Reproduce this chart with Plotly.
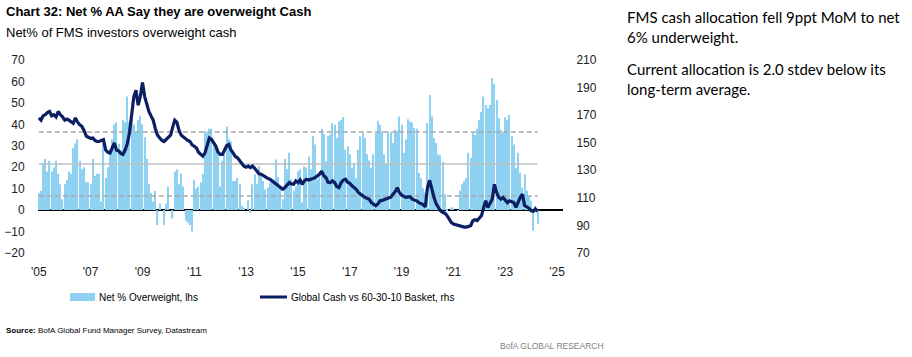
import plotly.graph_objects as go
import pandas as pd

# ---------------- data ----------------
start_month = "2005-01-01"

# Net % of FMS investors overweight cash (monthly, lhs)
net_overweight = [
    8, 9, 22, 24, 18, 23, 18, 20, 23, 17, 12, 5,
    12, 14, 18, 17, 29, 31, 33, 23, 19, 20, 13, 13,
    12, 24, 16, 17, 17, 4, 31, 15, 20, 27, 33, 40,
    41, 31, 28, 42, 41, 53, 41, 44, 40, 36, 42, 44,
    40, 34, 24, 12, 8, 4, 9, -7, 3, 0, -7, 3,
    11, 0, -4, 18, 19, 12, 17, 11, -5, -6, -7, -10,
    14, 10, 11, 13, 17, 37, 36, 38, 38, 32, 30, 26,
    11, 23, 27, 39, 33, 32, 13.6, 13.6, 15, 12, 2, 1,
    0, 4.6, -1.5, 12, 16.7, 12, 20.5, 16.7, 13.6, 9.7, 10.5, 12.8,
    13.6, 14.4, 23.6, 15.4, 10.5, 5, 24, 19, 26.7, 14.4, 9, 11,
    18, 19, 3.5, 20.5, 19.8, 25, 19, 34.7, 30.6, 14.4, 17.4, 38,
    35.5, 22.8, 34.4, 35.2, 40.6, 40, 33.6, 41.4, 42, 43.4, 28.2, 29.8,
    26, 19.8, 22, 15, 28.2, 34.4, 36, 33.6, 26, 23.1, 19.8, 26,
    36, 41.7, 39.8, 36.7, 26, 21.3, 36.7, 36, 31.3, 37.5, 37, 43.7,
    39.8, 26.7, 32.9, 42.4, 41.4, 40.9, 38.3, 38, 17.4, 14.8, 10.2, 8.2,
    40.6, 53.7, 43.7, 33.6, 31.3, 26, 25.6, 22.5, 7.4, 0.5, 0, 1.2,
    1.2, 0, -0.3, 9, 12, 13.6, 15, 26.7, 24.4, 36, 35, 38,
    42, 45.7, 53, 49, 47.5, 49, 61.7, 59, 51.4, 42.9, 37.5, 36,
    43.2, 42.1, 44.4, 34.4, 30.6, 19.8, 26.7, 17.4, 10.5, 16.7, 9, 6.6,
    4.3, -9.6, 2, -6.5,
]

# Global Cash vs 60-30-10 Basket (monthly, rhs)
cash_vs_basket = [
    168.0, 166.4, 169.5, 170.3, 171.9, 172.7, 169.5, 170.3, 168.8, 172.7, 170.3, 168.8,
    166.4, 167.2, 166.4, 164.9, 164.1, 168.0, 164.9, 163.0, 161.8, 158.7, 154.8, 154.0,
    153.2, 153.4, 151.7, 150.9, 150.9, 151.7, 152.3, 144.7, 143.1, 142.6, 146.2, 149.8,
    144.7, 143.9, 142.3, 141.5, 144.7, 149.3, 157.1, 171.1, 183.5, 188.2, 177.3, 183.5,
    193.7, 183.5, 177.3, 172.7, 169.5, 166.4, 160.2, 155.5, 153.4, 151.7, 150.9, 152.4,
    154.0, 155.5, 161.0, 166.4, 164.9, 158.7, 155.5, 154.0, 152.4, 151.7, 150.9, 148.5,
    147.5, 146.2, 143.1, 141.4, 140.3, 142.6, 147.8, 153.4, 152.4, 149.8, 147.5, 143.1,
    141.5, 141.5, 144.7, 147.8, 148.7, 144.7, 142.6, 140.0, 139.1, 136.9, 135.3, 133.0,
    132.2, 133.0, 131.9, 133.0, 131.4, 129.4, 127.5, 127.1, 126.0, 124.6, 124.1, 123.5,
    122.3, 121.0, 119.8, 118.7, 117.0, 116.2, 117.4, 119.0, 121.0, 120.1, 119.8, 122.3,
    121.0, 122.9, 119.8, 122.3, 123.5, 122.9, 123.5, 124.1, 124.6, 126.0, 127.1, 129.4,
    126.0, 124.6, 121.3, 121.0, 122.3, 121.0, 118.2, 117.4, 121.0, 122.9, 123.5, 121.3,
    120.5, 118.7, 117.4, 116.2, 113.9, 112.6, 111.4, 110.3, 109.7, 109.0, 106.5, 105.0,
    104.2, 105.5, 107.8, 108.1, 109.0, 109.3, 109.8, 110.4, 112.6, 114.3, 117.4, 113.9,
    112.0, 111.4, 110.3, 110.7, 110.7, 109.0, 108.6, 107.8, 106.5, 105.8, 105.0, 103.4,
    117.4, 122.7, 116.2, 110.4, 105.8, 102.7, 100.6, 99.5, 98.8, 97.2, 94.1, 92.2,
    91.0, 90.5, 90.2, 89.7, 89.1, 88.7, 88.7, 89.1, 89.7, 93.3, 94.1, 93.5,
    95.7, 97.1, 102.7, 107.8, 103.0, 106.5, 108.9, 119.8, 113.9, 110.4, 109.0, 110.3,
    108.1, 106.5, 107.8, 107.0, 106.5, 103.0, 107.3, 110.3, 112.6, 104.2, 103.4, 102.5,
    100.6, 100.2, 101.9, 100.2,
]

# Long-term average and +/- 1 stdev of the net % series (lhs)
upper_band = 36.4
avg_level = 21.5
lower_band = 6.6

left_ticks = [-20, -10, 0, 10, 20, 30, 40, 50, 60, 70]
right_ticks = [70, 90, 110, 130, 150, 170, 190, 210]
x_tick_dates = ["2005-01-01", "2007-01-01", "2009-01-01", "2011-01-01", "2013-01-01", "2015-01-01",
                "2017-01-01", "2019-01-01", "2021-01-01", "2023-01-01", "2025-01-01"]
x_tick_labels = ["'05", "'07", "'09", "'11", "'13", "'15", "'17", "'19", "'21", "'23", "'25"]

bar_name = "Net % Overweight, lhs"
line_name = "Global Cash vs 60-30-10 Basket, rhs"

# ---------------- figure ----------------
dates = pd.date_range(start_month, periods=len(net_overweight), freq="MS")

SANS = "Liberation Sans, Arial, sans-serif"
BODY = "Lato, sans-serif"
BAR_COLOR = "#8FD1F1"
LINE_COLOR = "#0B1F63"

fig = go.Figure()
fig.add_trace(go.Bar(x=dates, y=net_overweight, name=bar_name,
                     marker=dict(color=BAR_COLOR, line_width=0), showlegend=False))
for level, dash, color in [(upper_band, "5px,3px", "#A9A9A9"),
                           (avg_level, "solid", "#BFBFBF"),
                           (lower_band, "5px,3px", "#A9A9A9")]:
    fig.add_trace(go.Scatter(x=[dates[0], dates[-1]], y=[level, level], mode="lines",
                             line=dict(color=color, width=1.5, dash=dash),
                             showlegend=False, hoverinfo="skip"))
fig.add_trace(go.Scatter(x=dates, y=cash_vs_basket, name=line_name, yaxis="y2", mode="lines",
                         line=dict(color=LINE_COLOR, width=3.2), showlegend=False))

L, R, T, B = 38, 349, 58, 102
W, H = 912, 357
pw, ph = W - L - R, H - T - B


def px(x):
    return (x - L) / pw


def py(y):
    return (H - B - y) / ph


tick_font = dict(family=SANS, size=12, color="#222222")

fig.update_layout(
    width=W, height=H,
    margin=dict(l=L, r=R, t=T, b=B, pad=0, autoexpand=False),
    plot_bgcolor="white", paper_bgcolor="white",
    bargap=0.4,
    showlegend=False,
    xaxis=dict(type="date", range=["2004-12-20", "2025-03-25"], automargin=False,
               tickmode="array", tickvals=x_tick_dates, ticktext=x_tick_labels,
               showgrid=False, zeroline=False, showline=False,
               ticks="outside", ticklen=6, tickcolor="rgba(0,0,0,0)",
               tickfont=tick_font),
    yaxis=dict(range=[-21, 71], tickmode="array", tickvals=left_ticks, automargin=False,
               showgrid=False, zeroline=True, zerolinecolor="#000000", zerolinewidth=1.5,
               showline=False, ticks="outside", ticklen=10, tickcolor="rgba(0,0,0,0)",
               tickfont=tick_font),
    yaxis2=dict(range=[68.44, 211.56], overlaying="y", side="right", automargin=False,
                tickmode="array", tickvals=right_ticks,
                showgrid=False, zeroline=False, showline=False,
                ticks="outside", ticklen=10, tickcolor="rgba(0,0,0,0)",
                tickfont=tick_font),
)

annotations = [
    dict(text="<b>Chart 32: Net % AA Say they are overweight Cash</b>", x=px(4), y=py(12),
         font=dict(family=SANS, size=13, color="#000000")),
    dict(text="Net% of FMS investors overweight cash", x=px(4), y=py(32),
         font=dict(family=SANS, size=13, color="#000000")),
    dict(text="FMS cash allocation fell 9ppt MoM to net<br>6% underweight.", x=px(625), y=py(26.5),
         font=dict(family=BODY, size=15, color="#000000")),
    dict(text="Current allocation is 2.0 stdev below its<br>long-term average.", x=px(625), y=py(78.5),
         font=dict(family=BODY, size=15, color="#000000")),
    dict(text=bar_name, x=px(97), y=py(297),
         font=dict(family=SANS, size=10, color="#000000")),
    dict(text=line_name, x=px(289), y=py(297),
         font=dict(family=SANS, size=10, color="#000000")),
    dict(text="<b>Source:</b> BofA Global Fund Manager Survey, Datastream", x=px(4), y=py(330),
         font=dict(family=SANS, size=8, color="#000000")),
]
for a in annotations:
    a.update(xref="paper", yref="paper", xanchor="left", yanchor="middle",
             showarrow=False, align="left")
annotations.append(dict(text="BofA GLOBAL RESEARCH", x=px(606), y=py(346), xref="paper", yref="paper",
                        xanchor="right", yanchor="middle", showarrow=False,
                        font=dict(family=SANS, size=8.5, color="#7F7F7F")))
fig.update_layout(annotations=annotations)

fig.add_shape(type="rect", xref="paper", yref="paper",
              x0=px(70), x1=px(95), y0=py(301), y1=py(293),
              fillcolor=BAR_COLOR, line=dict(width=0))
fig.add_shape(type="line", xref="paper", yref="paper",
              x0=px(260), x1=px(287), y0=py(297), y1=py(297),
              line=dict(color=LINE_COLOR, width=3))

fig.write_html("out.html", config={"displayModeBar": False},
               post_script="document.body.style.margin='0';document.body.style.overflow='hidden';")
